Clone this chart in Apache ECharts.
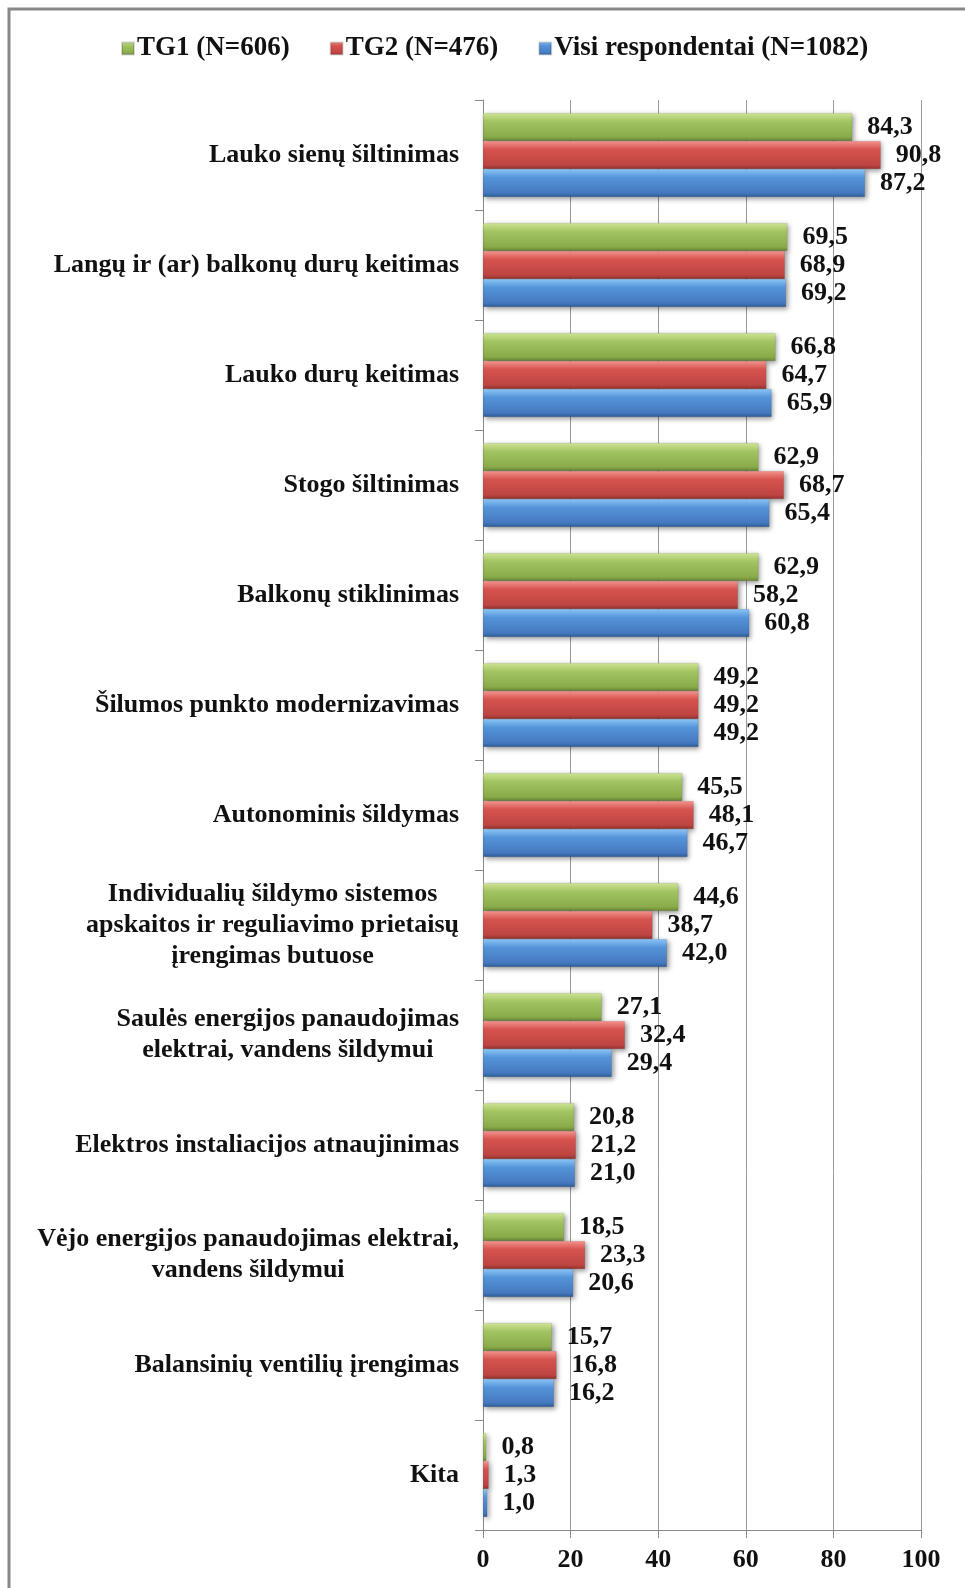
<!DOCTYPE html>
<html>
<head>
<meta charset="utf-8">
<script src="https://cdn.jsdelivr.net/npm/echarts@6/dist/echarts.min.js"></script>
<style>
html,body{margin:0;padding:0;background:#fff;}
#chart{width:965px;height:1588px;}
</style>
</head>
<body>
<div id="chart"></div>
<script>
const categories = [
  "Lauko sienų šiltinimas",
  "Langų ir (ar) balkonų durų keitimas",
  "Lauko durų keitimas",
  "Stogo šiltinimas",
  "Balkonų stiklinimas",
  "Šilumos punkto modernizavimas",
  "Autonominis šildymas",
  "Individualių šildymo sistemos\napskaitos ir reguliavimo prietaisų\nįrengimas butuose",
  "Saulės energijos panaudojimas\nelektrai, vandens šildymui",
  "Elektros instaliacijos atnaujinimas",
  "Vėjo energijos panaudojimas elektrai,\nvandens šildymui",
  "Balansinių ventilių įrengimas",
  "Kita"
];
const seriesNames = ["TG1 (N=606)", "TG2 (N=476)", "Visi respondentai (N=1082)"];
const tg1 = [84.3, 69.5, 66.8, 62.9, 62.9, 49.2, 45.5, 44.6, 27.1, 20.8, 18.5, 15.7, 0.8];
const tg2 = [90.8, 68.9, 64.7, 68.7, 58.2, 49.2, 48.1, 38.7, 32.4, 21.2, 23.3, 16.8, 1.3];
const visi = [87.2, 69.2, 65.9, 65.4, 60.8, 49.2, 46.7, 42.0, 29.4, 21.0, 20.6, 16.2, 1.0];
const xTicks = [0, 20, 40, 60, 80, 100];

const FONT = '"Liberation Serif", "Times New Roman", serif';
const FS = 26;

function grad(c0, c1, c2, c3) {
  return new echarts.graphic.LinearGradient(0, 0, 0, 1, [
    {offset: 0, color: c0}, {offset: 0.3, color: c1}, {offset: 0.85, color: c2}, {offset: 1, color: c3}
  ]);
}
const colors = [
  grad('#cfe696', '#a3c463', '#8aab4a', '#6a8736'),
  grad('#f6948f', '#d6534f', '#be4542', '#953230'),
  grad('#8cc6f7', '#5594da', '#4579bf', '#2d5a94')
];

function mkSeries(name, data, color) {
  return {
    name: name,
    type: 'bar',
    data: data,
    barWidth: 28,
    barGap: '0%',
    itemStyle: {
      color: color,
      borderColor: 'rgba(0,0,0,0.15)',
      borderWidth: 0.5,
      shadowColor: 'rgba(0,0,0,0.4)',
      shadowBlur: 5,
      shadowOffsetX: 2,
      shadowOffsetY: 2
    },
    label: {
      show: true,
      position: 'right',
      distance: 15,
      fontFamily: FONT,
      fontWeight: 'bold',
      fontSize: FS,
      color: '#111',
      formatter: p => p.value.toFixed(1).replace('.', ',')
    }
  };
}

const chart = echarts.init(document.getElementById('chart'), null, {renderer: 'canvas'});
chart.setOption({
  animation: false,
  backgroundColor: '#fff',
  graphic: [{
    type: 'rect',
    shape: {x: 9, y: 9, width: 1000, height: 1650},
    style: {fill: 'none', stroke: '#888', lineWidth: 3},
    silent: true
  }],
  legend: {
    left: 116,
    top: 30,
    itemWidth: 12,
    itemHeight: 12,
    itemGap: 40,
    icon: 'rect',
    textStyle: {fontFamily: FONT, fontWeight: 'bold', fontSize: 27, color: '#111', padding: [0, 0, 0, -2]},
    data: seriesNames
  },
  grid: {left: 483, right: 44, top: 100, bottom: 58, containLabel: false},
  xAxis: {
    type: 'value',
    min: 0, max: 100, interval: 20,
    position: 'bottom',
    axisLine: {show: true, lineStyle: {color: '#888', width: 1}},
    axisTick: {show: true, length: 8, lineStyle: {color: '#888'}},
    splitLine: {show: true, lineStyle: {color: '#999', width: 1}},
    axisLabel: {
      margin: 17,
      fontFamily: FONT, fontWeight: 'bold', fontSize: FS, color: '#111',
      formatter: v => xTicks.indexOf(v) >= 0 ? String(v) : ''
    }
  },
  yAxis: {
    type: 'category',
    data: categories,
    inverse: true,
    axisLine: {show: true, lineStyle: {color: '#888', width: 1}},
    axisTick: {show: true, length: 8, lineStyle: {color: '#888'}},
    axisLabel: {
      margin: 24,
      align: 'right',
      fontFamily: FONT, fontWeight: 'bold', fontSize: FS, color: '#111',
      lineHeight: 31,
      formatter: v => v.split('\n').map(l => '{c|' + l + '}').join('\n'),
      rich: {
        c: {align: 'center', fontFamily: FONT, fontWeight: 'bold', fontSize: FS, color: '#111', lineHeight: 31}
      }
    }
  },
  series: [
    mkSeries(seriesNames[0], tg1, colors[0]),
    mkSeries(seriesNames[1], tg2, colors[1]),
    mkSeries(seriesNames[2], visi, colors[2])
  ]
});
</script>
</body>
</html>
